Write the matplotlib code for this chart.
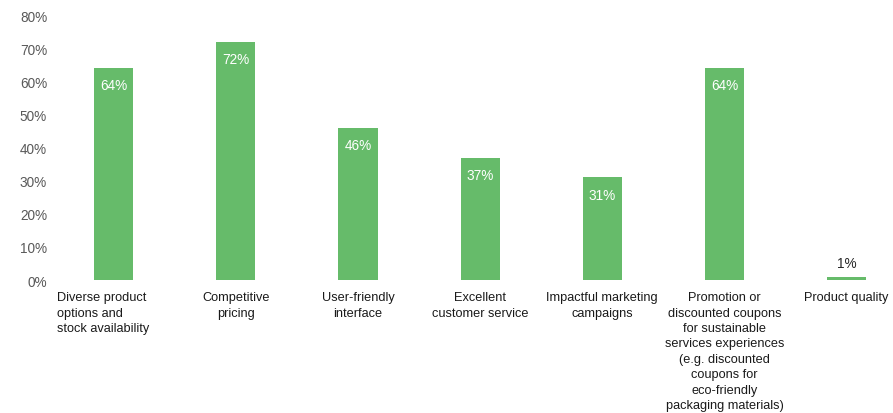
import matplotlib.pyplot as plt

plt.rcParams['font.family'] = ['Liberation Sans', 'DejaVu Sans']

# данные
categories = [
    "Diverse product\noptions and\nstock availability",
    "Competitive\npricing",
    "User-friendly\ninterface",
    "Excellent\ncustomer service",
    "Impactful marketing\ncampaigns",
    "Promotion or\ndiscounted coupons\nfor sustainable\nservices experiences\n(e.g. discounted\ncoupons for\neco-friendly\npackaging materials)",
    "Product quality",
]
values = [64, 72, 46, 37, 31, 64, 1]
yticks = [0, 10, 20, 30, 40, 50, 60, 70, 80]

bar_color = '#66bb6a'

fig = plt.figure(figsize=(8.93, 4.14), dpi=100)
ax = fig.add_axes([0.059, 0.321, 0.941, 0.64])

x = list(range(len(values)))
bars = ax.bar(x, values, width=0.32, color=bar_color)

ax.set_xlim(-0.5, 6.38)
ax.set_ylim(0, 80)
ax.set_yticks(yticks)
ax.set_yticklabels([f'{v}%' for v in yticks], fontsize=9.8, color='#595959')
ax.set_xticks([])
ax.tick_params(axis='y', length=0, pad=4)
for s in ax.spines.values():
    s.set_visible(False)

# подписи значений
for xi, v in zip(x, values):
    if v > 10:
        ax.annotate(f'{v}%', (xi, v), xytext=(0, -12.5), textcoords='offset points',
                    ha='center', va='center', color='white', fontsize=9.8)
    else:
        ax.annotate(f'{v}%', (xi, v), xytext=(0, 10), textcoords='offset points',
                    ha='center', va='center', color='#262626', fontsize=9.8)

# подписи категорий
for xi, lab in zip(x, categories):
    dx = -8 if xi == 0 else 0
    ax.annotate(lab, (xi, 0), xytext=(dx, -8), textcoords='offset points',
                ha='center', va='top', multialignment='left' if xi == 0 else 'center',
                fontsize=9.2, color='#1a1a1a', linespacing=1.38)

fig.savefig('out.png', dpi=100)
